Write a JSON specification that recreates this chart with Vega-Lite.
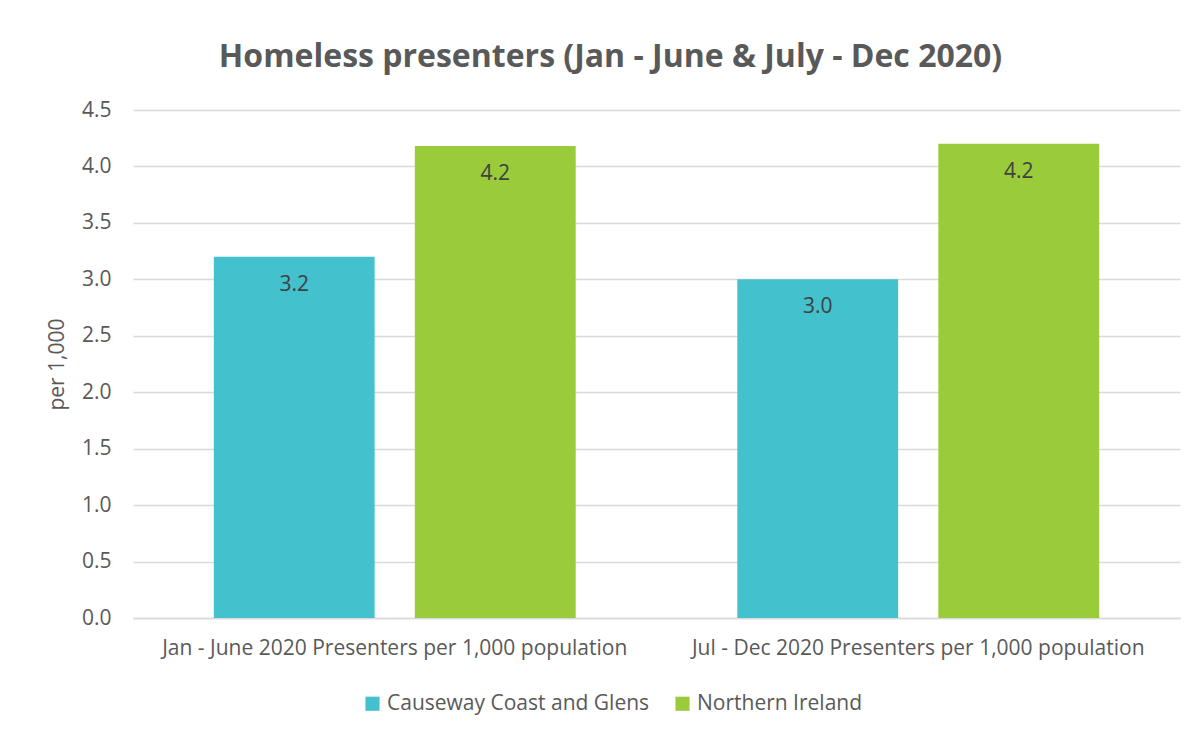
{
  "$schema": "https://vega.github.io/schema/vega-lite/v6.json",
  "width": 1047,
  "height": 508,
  "autosize": {"type": "none"},
  "padding": {"left": 133, "top": 110, "right": 18, "bottom": 114},
  "background": "white",
  "title": {
    "text": "Homeless presenters (Jan - June & July - Dec 2020)",
    "font": "Open Sans",
    "fontSize": 32,
    "fontWeight": "bold",
    "color": "#595959",
    "anchor": "middle",
    "dx": -46,
    "offset": 25
  },
  "data": {
    "values": [
      {"period": "Jan - June 2020 Presenters per 1,000 population", "area": "Causeway Coast and Glens", "value": 3.2},
      {"period": "Jan - June 2020 Presenters per 1,000 population", "area": "Northern Ireland", "value": 4.18},
      {"period": "Jul - Dec 2020 Presenters per 1,000 population", "area": "Causeway Coast and Glens", "value": 3.0},
      {"period": "Jul - Dec 2020 Presenters per 1,000 population", "area": "Northern Ireland", "value": 4.2}
    ]
  },
  "encoding": {
    "x": {
      "field": "period", "type": "nominal", "sort": null,
      "scale": {"paddingInner": 0, "paddingOuter": 0},
      "axis": {"title": null, "labelAngle": 0, "labelFont": "Open Sans", "labelFontSize": 21, "labelColor": "#595959", "labelLimit": 0, "ticks": false, "domainColor": "#D9D9D9", "domainWidth": 1.5, "labelPadding": 19}
    },
    "xOffset": {
      "field": "area", "type": "nominal", "sort": null,
      "scale": {"paddingInner": 0.2, "paddingOuter": 0.402}
    },
    "y": {
      "field": "value", "type": "quantitative",
      "scale": {"domain": [0, 4.5], "nice": false},
      "axis": {"title": "per 1,000", "titleFont": "Open Sans", "titleFontSize": 21, "titleFontWeight": "normal", "titleColor": "#595959", "titlePadding": 14, "values": [0, 0.5, 1, 1.5, 2, 2.5, 3, 3.5, 4, 4.5], "format": ".1f", "labelFont": "Open Sans", "labelFontSize": 21, "labelColor": "#595959", "ticks": false, "domain": false, "labelPadding": 22, "gridColor": "#D9D9D9", "gridWidth": 1.5}
    }
  },
  "layer": [
    {
      "mark": {"type": "bar"},
      "encoding": {
        "color": {
          "field": "area", "type": "nominal", "sort": null,
          "scale": {"range": ["#43C1CD", "#9ACB3B"]},
          "legend": {"title": null, "orient": "none", "direction": "horizontal", "legendX": 229, "legendY": 583, "symbolType": "square", "symbolSize": 200, "symbolStrokeWidth": 0, "labelFont": "Open Sans", "labelFontSize": 21, "labelColor": "#595959", "labelLimit": 0, "columnPadding": 22, "labelOffset": 4}
        }
      }
    },
    {
      "mark": {"type": "text", "baseline": "middle", "dy": 28, "font": "Open Sans", "fontSize": 21, "color": "#404040"},
      "encoding": {
        "text": {"field": "value", "type": "quantitative", "format": ".1f"}
      }
    }
  ],
  "config": {"view": {"stroke": null}}
}
